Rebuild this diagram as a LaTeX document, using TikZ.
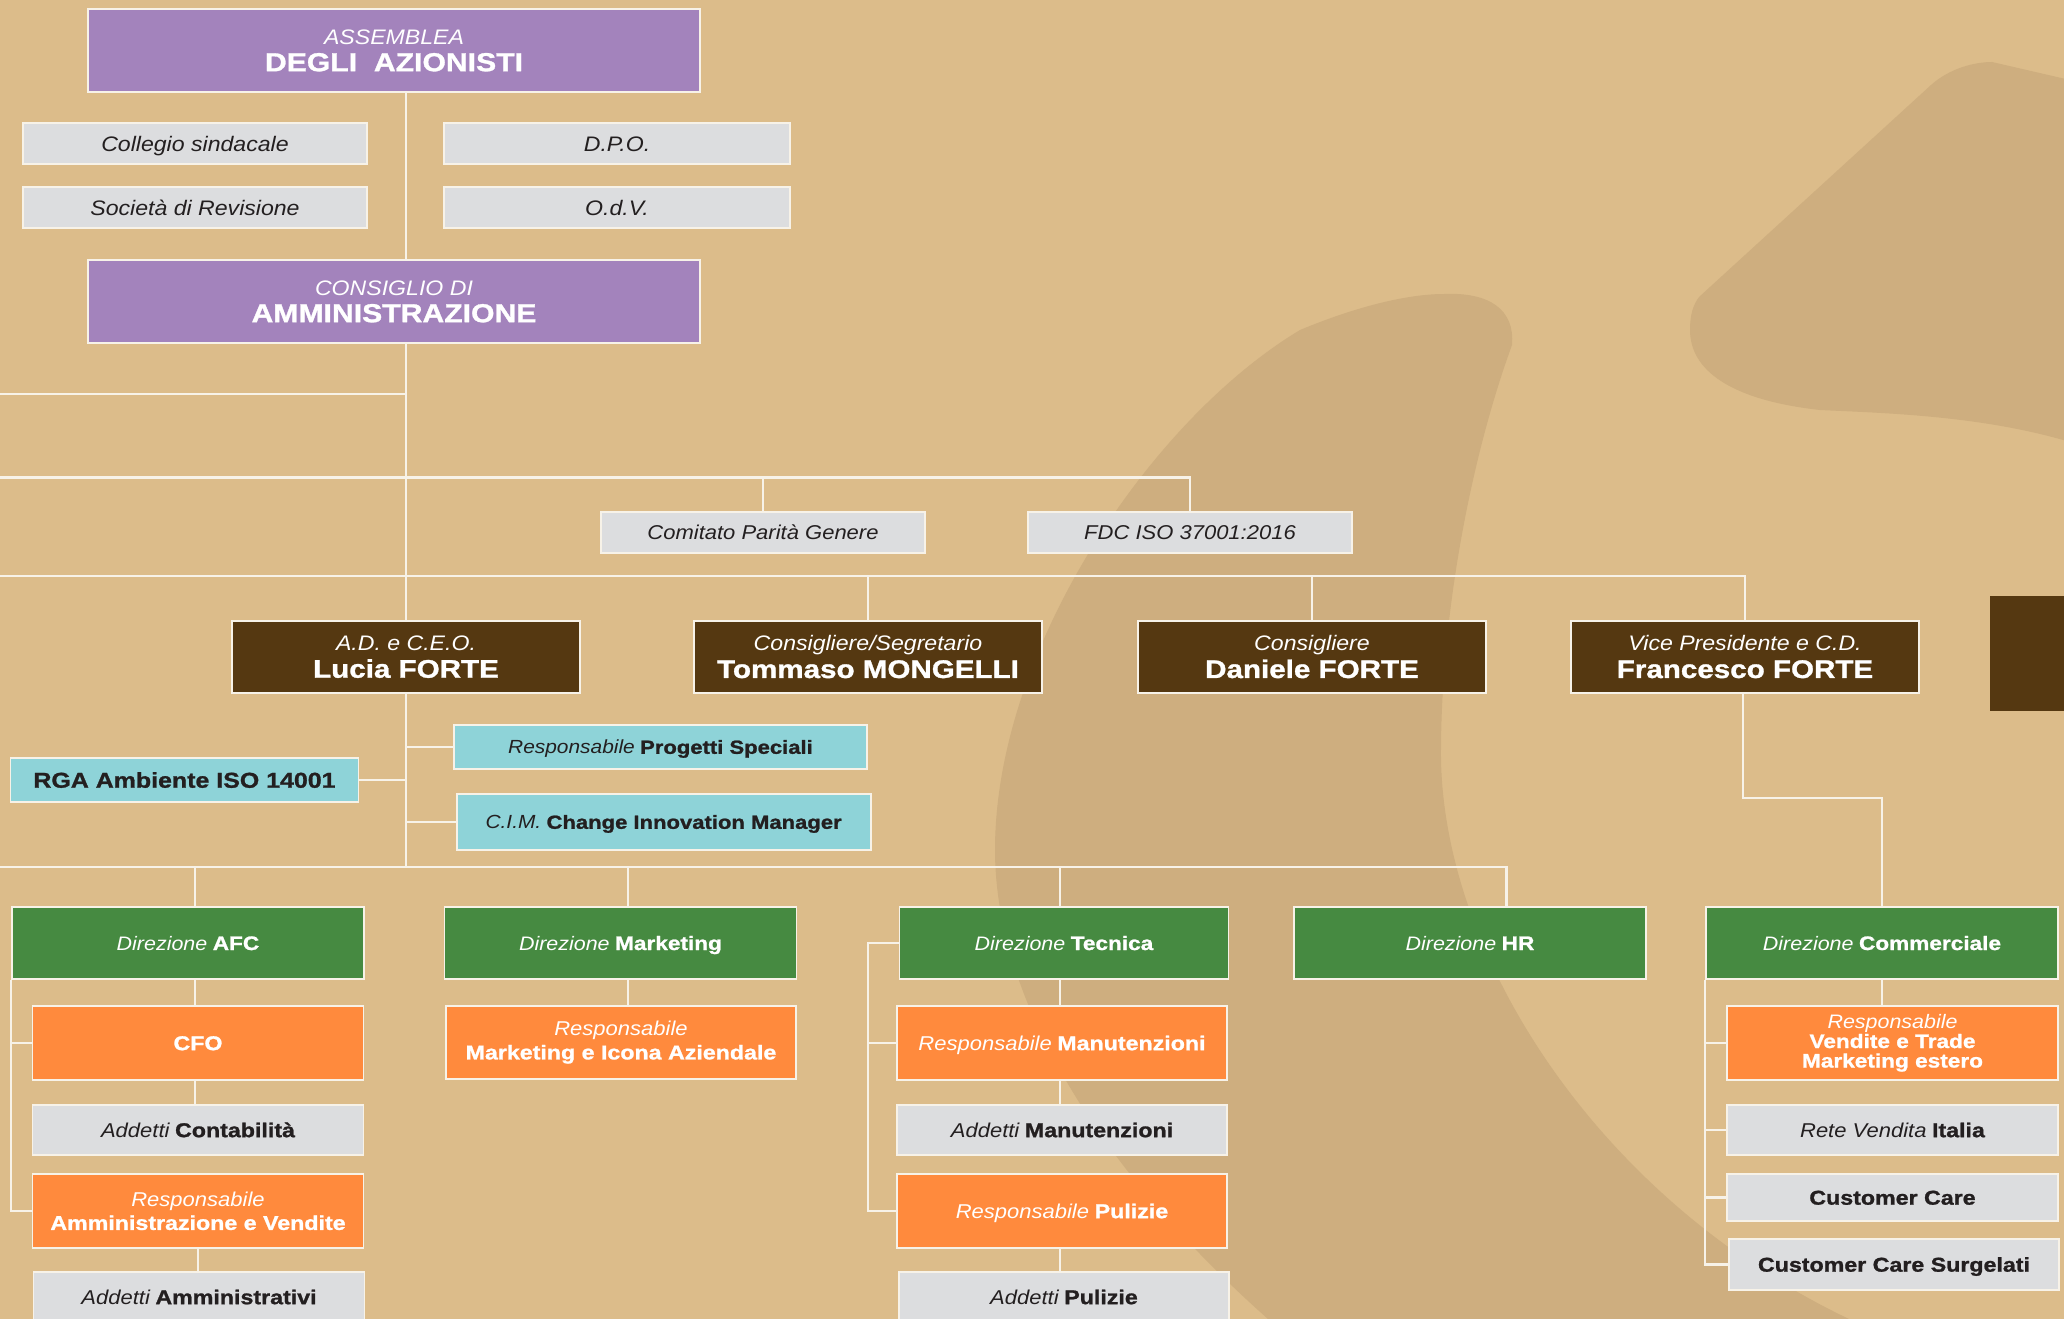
\documentclass[tikz,border=0pt]{standalone}
\usepackage{fontspec}
\setmainfont{Liberation Sans}
\newfontfamily\itfam{Liberation Sans}[FakeStretch=1.1]
\newfontfamily\bdfam{Liberation Sans}[FakeStretch=1.16, FakeBold=1.2]
\newcommand\itx[1]{{\itfam\itshape #1}}
\newcommand\bdx[1]{{\bdfam\bfseries #1}}
\newcommand\purtxt[1]{{\fontsize{26}{27}\selectfont\bdfam\bfseries #1}}
\newcommand\brntxt[1]{{\fontsize{25.5}{27}\selectfont\bdfam\bfseries #1}}
\definecolor{bgc}{HTML}{DCBC8A}
\definecolor{shp}{HTML}{CEAE7F}
\definecolor{purp}{HTML}{A383BC}
\definecolor{greyc}{HTML}{DCDDDF}
\definecolor{brn}{HTML}{553811}
\definecolor{tealc}{HTML}{8ED3D8}
\definecolor{grn}{HTML}{468A41}
\definecolor{orgc}{HTML}{FF8A3D}
\definecolor{dk}{HTML}{231F20}
\definecolor{linec}{HTML}{F7F2E8}
\pgfdeclarelayer{bgl}
\pgfdeclarelayer{cnl}
\pgfsetlayers{bgl,cnl,main}
\begin{document}
\begin{tikzpicture}[x=1pt,y=-1pt,
  box/.style={draw=linec, line width=1.8pt, inner sep=0pt, align=center},
  capc/.style={text height=#1, text depth=0pt},
  purpb/.style={box, fill=purp, text=white, minimum width=612pt, minimum height=83pt, font=\fontsize{21}{27}\selectfont},
  greyt/.style={box, fill=greyc, text=dk, minimum height=41pt, font=\fontsize{21}{24}\selectfont, capc=15pt},
  brownb/.style={box, fill=brn, text=white, minimum width=348pt, minimum height=72pt, font=\fontsize{21}{27}\selectfont},
  tealb/.style={box, fill=tealc, text=dk, font=\fontsize{19}{22}\selectfont, capc=13.6pt},
  greenb/.style={box, fill=grn, text=white, minimum height=72.6pt, font=\fontsize{19.5}{22}\selectfont, capc=14pt},
  orangeb/.style={box, fill=orgc, text=white, minimum height=74pt, font=\fontsize{20}{23.5}\selectfont},
  greyl/.style={box, fill=greyc, text=dk, minimum height=50pt, font=\fontsize{20}{23}\selectfont, capc=14.3pt},
  conn/.style={draw=linec, line width=2.4pt}]
\useasboundingbox (0,0) rectangle (2064,1319);
\begin{pgfonlayer}{bgl}
\begin{scope}
\clip (0,0) rectangle (2064,1319);
\fill[bgc] (0,0) rectangle (2064,1319);
\fill[shp] (1444,294) .. controls (1490,292) and (1515,310) .. (1512,345)
  .. controls (1470,460) and (1440,620) .. (1441,760)
  .. controls (1445,960) and (1600,1200) .. (1849,1319)
  -- (1849,1340) -- (1268,1340) -- (1268,1319)
  .. controls (1100,1170) and (995,1000) .. (995,850)
  .. controls (995,650) and (1150,420) .. (1300,330)
  .. controls (1360,305) and (1410,294) .. (1444,294) -- cycle;
\fill[shp] (1931,85) .. controls (1950,68) and (1975,62) .. (1992,62)
  -- (2070,80) -- (2070,442)
  .. controls (1980,415) and (1880,413) .. (1820,410)
  .. controls (1730,400) and (1690,370) .. (1690,330)
  .. controls (1690,315) and (1693,305) .. (1699,297) -- cycle;
\fill[brn] (1990,596) rectangle (2064,711);
\end{scope}
\end{pgfonlayer}
\begin{scope}
\clip (0,0) rectangle (2064,1319);
% top
\node[purpb] (ass) at (394,50.5) {\itx{ASSEMBLEA}\\\purtxt{DEGLI\ \ AZIONISTI}};
\node[greyt, minimum width=344pt] (coll) at (195,143.5) {\itx{Collegio sindacale}};
\node[greyt, minimum width=344pt] (soc) at (195,207.5) {\itx{Società di Revisione}};
\node[greyt, minimum width=346pt] (dpo) at (617,143.5) {\itx{D.P.O.}};
\node[greyt, minimum width=346pt] (odv) at (617,207.5) {\itx{O.d.V.}};
\node[purpb] (cda) at (394,301.5) {\itx{CONSIGLIO DI}\\\purtxt{AMMINISTRAZIONE}};
\node[greyt, minimum width=324pt, font=\fontsize{20}{24}\selectfont, capc=14.3pt] (com) at (763,532.5) {\itx{Comitato Parità Genere}};
\node[greyt, minimum width=324pt, font=\fontsize{20}{24}\selectfont, capc=14.3pt] (fdc) at (1190,532.5) {\itx{FDC ISO 37001:2016}};
% board
\node[brownb] (lucia) at (406,657) {\itx{A.D. e C.E.O.}\\\brntxt{Lucia FORTE}};
\node[brownb] (tom) at (868,657) {\itx{Consigliere/Segretario}\\\brntxt{Tommaso MONGELLI}};
\node[brownb] (dan) at (1312,657) {\itx{Consigliere}\\\brntxt{Daniele FORTE}};
\node[brownb] (fra) at (1745,657) {\itx{Vice Presidente e C.D.}\\\brntxt{Francesco FORTE}};
% staff
\node[tealb, minimum width=413pt, minimum height=44pt] (prog) at (660.5,747) {\itx{Responsabile} \bdx{Progetti Speciali}};
\node[tealb, minimum width=348pt, minimum height=44pt, font=\fontsize{21.5}{24}\selectfont, capc=15.4pt] (rga) at (184.5,780) {\bdx{RGA Ambiente ISO 14001}};
\node[tealb, minimum width=414pt, minimum height=56pt] (cim) at (663.6,822) {\itx{C.I.M.} \bdx{Change Innovation Manager}};
% directions
\node[greenb, minimum width=352.5pt] (afc) at (188,943) {\itx{Direzione} \bdx{AFC}};
\node[greenb, minimum width=352pt] (mkt) at (620.5,943) {\itx{Direzione} \bdx{Marketing}};
\node[greenb, minimum width=329pt] (tec) at (1064,943) {\itx{Direzione} \bdx{Tecnica}};
\node[greenb, minimum width=352pt] (hr) at (1470,943) {\itx{Direzione} \bdx{HR}};
\node[greenb, minimum width=352pt] (comm) at (1882,943) {\itx{Direzione} \bdx{Commerciale}};
% AFC
\node[orangeb, minimum width=331pt, capc=14.3pt] (cfo) at (198,1043) {\bdx{CFO}};
\node[greyl, minimum width=331pt] (cont) at (198,1130) {\itx{Addetti} \bdx{Contabilità}};
\node[orangeb, minimum width=331pt] (ramm) at (198,1211) {\itx{Responsabile}\\\bdx{Amministrazione e Vendite}};
\node[greyl, minimum width=331pt] (aamm) at (199,1297) {\itx{Addetti} \bdx{Amministrativi}};
% Marketing
\node[orangeb, minimum width=350pt, minimum height=73pt] (rmkt) at (621,1042.5) {\itx{Responsabile}\\\bdx{Marketing e Icona Aziendale}};
% Tecnica
\node[orangeb, minimum width=330pt, capc=14.3pt] (rman) at (1062,1043) {\itx{Responsabile} \bdx{Manutenzioni}};
\node[greyl, minimum width=330pt] (aman) at (1062,1130) {\itx{Addetti} \bdx{Manutenzioni}};
\node[orangeb, minimum width=330pt, capc=14.3pt] (rpul) at (1062,1211) {\itx{Responsabile} \bdx{Pulizie}};
\node[greyl, minimum width=330pt] (apul) at (1064,1297) {\itx{Addetti} \bdx{Pulizie}};
% Commerciale
\node[orangeb, minimum width=331pt, font=\fontsize{19.5}{19.5}\selectfont] (rven) at (1892.5,1043) {\itx{Responsabile}\\\bdx{Vendite e Trade}\\\bdx{Marketing estero}};
\node[greyl, minimum width=331pt] (rete) at (1892.5,1130) {\itx{Rete Vendita} \bdx{Italia}};
\node[greyl, minimum width=331pt, minimum height=47pt] (cc) at (1892.5,1197.5) {\bdx{Customer Care}};
\node[greyl, minimum width=330pt, minimum height=51pt] (ccs) at (1894,1264.5) {\bdx{Customer Care Surgelati}};
\end{scope}
% connectors
\coordinate (vx) at (406,0);
\coordinate (h1) at (0,394);
\coordinate (h2) at (0,477.5);
\coordinate (h3) at (0,576);
\coordinate (h4) at (0,867);
\coordinate (xa) at (195,0);
\coordinate (xa2) at (198,0);
\coordinate (xm) at (628,0);
\coordinate (xt) at (1060,0);
\coordinate (xhr) at (1506.5,0);
\coordinate (bt) at (868,0);
\coordinate (fk) at (1743,797.7);
\begin{pgfonlayer}{cnl}
\draw[conn] (ass.south -| vx) -- (cda.north -| vx);
\draw[conn] (cda.south -| vx) -- (lucia.north -| vx);
\draw[conn] (lucia.south -| vx) -- (h4 -| vx);
\draw[conn] (h1) -- (h1 -| vx);
\draw[conn] (h2) -- (h2 -| fdc.north) -- (fdc.north);
\draw[conn] (h2 -| com.north) -- (com.north);
\draw[conn] (h3) -- (h3 -| fra.north) -- (fra.north);
\draw[conn] (h3 -| tom.north) -- (tom.north);
\draw[conn] (h3 -| dan.north) -- (dan.north);
\draw[conn] (prog.west) -- (prog.west -| vx);
\draw[conn] (rga.east) -- (rga.east -| vx);
\draw[conn] (cim.west) -- (cim.west -| vx);
\draw[conn] (h4) -- (h4 -| xhr) -- (hr.north -| xhr);
\draw[conn] (h4 -| xa) -- (afc.north -| xa);
\draw[conn] (h4 -| xm) -- (mkt.north -| xm);
\draw[conn] (h4 -| xt) -- (tec.north -| xt);
\draw[conn] (afc.south -| xa) -- (cfo.north -| xa);
\draw[conn] (cfo.south -| xa) -- (cont.north -| xa);
\draw[conn] (ramm.south -| xa2) -- (aamm.north -| xa2);
\draw[conn] (afc.south west) -- (afc.south west |- ramm.west) -- (ramm.west);
\draw[conn] (afc.south west |- cfo.west) -- (cfo.west);
\draw[conn] (mkt.south -| xm) -- (rmkt.north -| xm);
\draw[conn] (tec.south -| xt) -- (rman.north -| xt);
\draw[conn] (rman.south -| xt) -- (aman.north -| xt);
\draw[conn] (rpul.south -| xt) -- (apul.north -| xt);
\draw[conn] (tec.west) -- (tec.west -| bt) -- (rpul.west -| bt) -- (rpul.west);
\draw[conn] (rman.west -| bt) -- (rman.west);
\draw[conn] (fra.south -| fk) -- (fk) -- (fk -| comm.north) -- (comm.north);
\draw[conn] (comm.south) -- (rven.north -| comm.south);
\draw[conn] (comm.south west) -- (comm.south west |- ccs.west) -- (ccs.west);
\draw[conn] (comm.south west |- rven.west) -- (rven.west);
\draw[conn] (comm.south west |- rete.west) -- (rete.west);
\draw[conn] (comm.south west |- cc.west) -- (cc.west);
\end{pgfonlayer}
\end{tikzpicture}
\end{document}
